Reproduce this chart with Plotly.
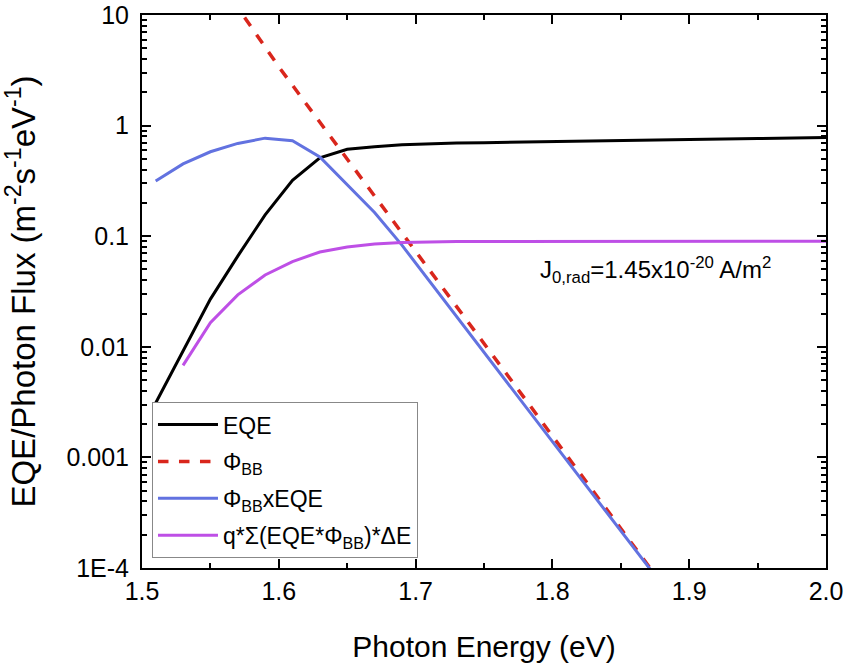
import plotly.graph_objects as go

# ---- data ----
eqe_x = [1.51, 1.53, 1.55, 1.57, 1.59, 1.61, 1.63, 1.65, 1.67, 1.69, 1.71, 1.73, 1.75,
         1.80, 1.85, 1.90, 1.95, 2.00]
eqe_y = [0.0031, 0.0092, 0.027, 0.066, 0.156, 0.32, 0.51, 0.61, 0.645, 0.67, 0.685, 0.695,
         0.70, 0.72, 0.735, 0.75, 0.765, 0.78]

phi_x = [1.575, 1.60, 1.625, 1.65, 1.675, 1.70, 1.725, 1.75, 1.775, 1.80, 1.825, 1.85, 1.875]
phi_y = [9.5, 3.4, 1.30, 0.50, 0.19, 0.073, 0.028, 0.0107, 0.0041, 0.00156, 0.0006,
         0.00023, 0.000087]

prod_x = [1.51, 1.53, 1.55, 1.57, 1.59, 1.61, 1.63, 1.65, 1.67, 1.69, 1.71, 1.73, 1.75,
          1.77, 1.79, 1.81, 1.83, 1.85, 1.87, 1.89]
prod_y = [0.315, 0.45, 0.58, 0.69, 0.77, 0.73, 0.52, 0.29, 0.164, 0.083, 0.0394, 0.0187,
          0.0089, 0.00423, 0.00201, 0.00095, 0.00045, 0.000216, 0.000103, 0.000049]

cum_x = [1.53, 1.55, 1.57, 1.59, 1.61, 1.63, 1.65, 1.67, 1.69, 1.71, 1.73, 1.75, 1.80,
         1.90, 2.00]
cum_y = [0.0068, 0.0165, 0.0295, 0.0446, 0.059, 0.072, 0.080, 0.085, 0.0875, 0.0888,
         0.0894, 0.0897, 0.0899, 0.09, 0.09]

y_tickvals = [1e-4, 1e-3, 1e-2, 1e-1, 1, 10]
y_ticktext = ["1E-4", "0.001", "0.01", "0.1", "1", "10"]
x_tickvals = [1.5, 1.6, 1.7, 1.8, 1.9, 2.0]
x_ticktext = ["1.5", "1.6", "1.7", "1.8", "1.9", "2.0"]

names = ["EQE", "Φ<sub>BB</sub>", "Φ<sub>BB</sub>xEQE", "q*Σ(EQE*Φ<sub>BB</sub>)*ΔE"]
annotation_text = "J<sub>0,rad</sub>=1.45x10<sup>-20</sup> A/m<sup>2</sup>"

FONT = "Liberation Sans, Arial, sans-serif"

fig = go.Figure()
fig.add_trace(go.Scatter(x=eqe_x, y=eqe_y, mode="lines", name=names[0], legendgroup="a",
                         line=dict(color="black", width=3)))
fig.add_trace(go.Scatter(x=phi_x, y=phi_y, mode="lines", name=names[1], legendgroup="b",
                         line=dict(color="#D9261C", width=3.5, dash="dash")))
fig.add_trace(go.Scatter(x=prod_x, y=prod_y, mode="lines", name=names[2], legendgroup="c",
                         line=dict(color="#6272E0", width=3)))
fig.add_trace(go.Scatter(x=cum_x, y=cum_y, mode="lines", name=names[3], legendgroup="d",
                         line=dict(color="#BE4FE6", width=3)))

minor_y = [m * 10 ** e for e in range(-4, 1) for m in range(2, 10)]

fig.update_layout(
    template="none",
    width=848, height=666,
    margin=dict(l=142, r=22, t=15, b=98),
    paper_bgcolor="white", plot_bgcolor="rgba(0,0,0,0)",
    font=dict(family=FONT, color="black", size=20),
    showlegend=True,
    legend=dict(x=0.0146, y=0.300, xanchor="left", yanchor="top",
                bgcolor="white", bordercolor="#888888", borderwidth=1,
                font=dict(size=23, family=FONT), traceorder="grouped",
                tracegroupgap=4, itemwidth=60),
    annotations=[dict(text=annotation_text, x=1.875, y=-1.31, xref="x", yref="y",
                      showarrow=False, font=dict(size=24, family=FONT),
                      xanchor="center", yanchor="middle")],
)

fig.update_xaxes(
    range=[1.5, 2.0], tickmode="array", tickvals=x_tickvals, ticktext=x_ticktext,
    showline=True, linecolor="black", linewidth=2, mirror="ticks",
    ticks="inside", ticklen=9, tickwidth=1.8, tickcolor="black",
    showgrid=False, zeroline=False, showticklabels=True,
    minor=dict(ticks="inside", ticklen=5, tickwidth=1.8, tickcolor="black", dtick=0.05,
               showgrid=False),
    title=dict(text="Photon Energy (eV)", font=dict(size=30, family=FONT), standoff=32),
    tickfont=dict(size=25, family=FONT),
)
fig.update_yaxes(
    type="log", range=[-4, 1], tickmode="array", tickvals=y_tickvals, ticktext=y_ticktext,
    showline=True, linecolor="black", linewidth=2, mirror="ticks",
    ticks="inside", ticklen=9, tickwidth=1.8, tickcolor="black",
    showgrid=False, zeroline=False, showticklabels=True,
    minor=dict(ticks="inside", ticklen=5, tickwidth=1.8, tickcolor="black",
               tickvals=minor_y, showgrid=False),
    title=dict(text="EQE/Photon Flux (m<sup>-2</sup>s<sup>-1</sup>eV<sup>-1</sup>)",
               font=dict(size=33, family=FONT), standoff=26),
    tickfont=dict(size=25, family=FONT),
    ticklabelstandoff=6,
)

fig.write_html("out.html")
